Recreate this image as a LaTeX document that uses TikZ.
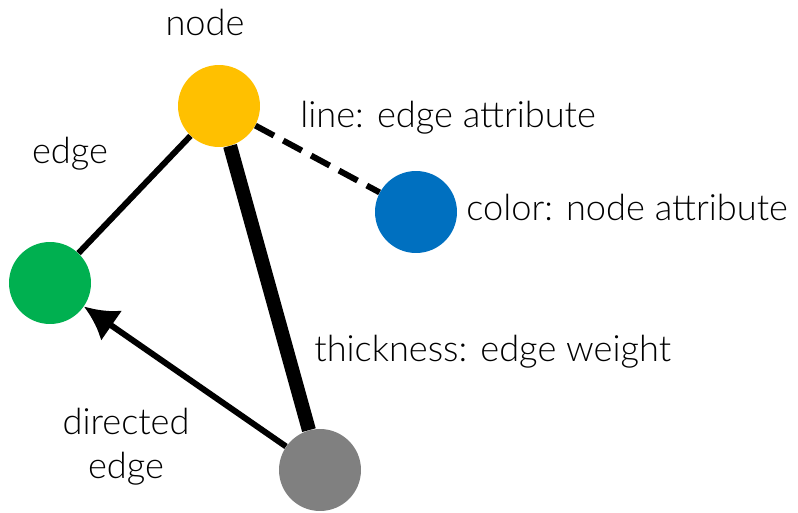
\documentclass[tikz,border=0pt]{standalone}
\usepackage{fontspec}
\setmainfont{Lato}[UprightFont=* Light]
\usetikzlibrary{arrows.meta}

\begin{document}
\begin{tikzpicture}[x=0.02cm,y=-0.02cm,
  vertex/.style={circle,inner sep=0pt,minimum size=1.64cm},
  lbl/.style={font=\fontsize{20.6}{24}\selectfont,inner sep=0pt},
  link/.style={line width=3.4pt}]
\useasboundingbox (0,0) rectangle (798,513);
\node[vertex,fill={rgb,255:red,255;green,192;blue,0}] (yel) at (219,106) {};
\node[vertex,fill={rgb,255:red,0;green,112;blue,192}] (blu) at (416,212) {};
\node[vertex,fill={rgb,255:red,0;green,176;blue,80}] (grn) at (50,283) {};
\node[vertex,fill={rgb,255:red,128;green,128;blue,128}] (gry) at (320,470) {};
\draw[link] (yel) -- (grn);
\draw[link,dashed,dash pattern=on 12pt off 6pt] (yel) -- (blu);
\draw[line width=8pt] (yel) -- (gry);
\draw[link,-{Latex[length=19pt,width=21pt]}] (gry) -- (grn);
% labels
\node[lbl] (tnode) at (205,22) {node};
\node[lbl] (tedge) at (70,154) {edge};
\node[lbl,anchor=west] (tline) at (300,118) {line: edge attribute};
\node[lbl,anchor=west] (tcol) at (466,207) {color: node attribute};
\node[lbl,anchor=west] (tthk) at (314,352) {thickness: edge weight};
\node[lbl,align=center] (tdir) at (126,447) {directed\\[1pt]edge};
\end{tikzpicture}
\end{document}
